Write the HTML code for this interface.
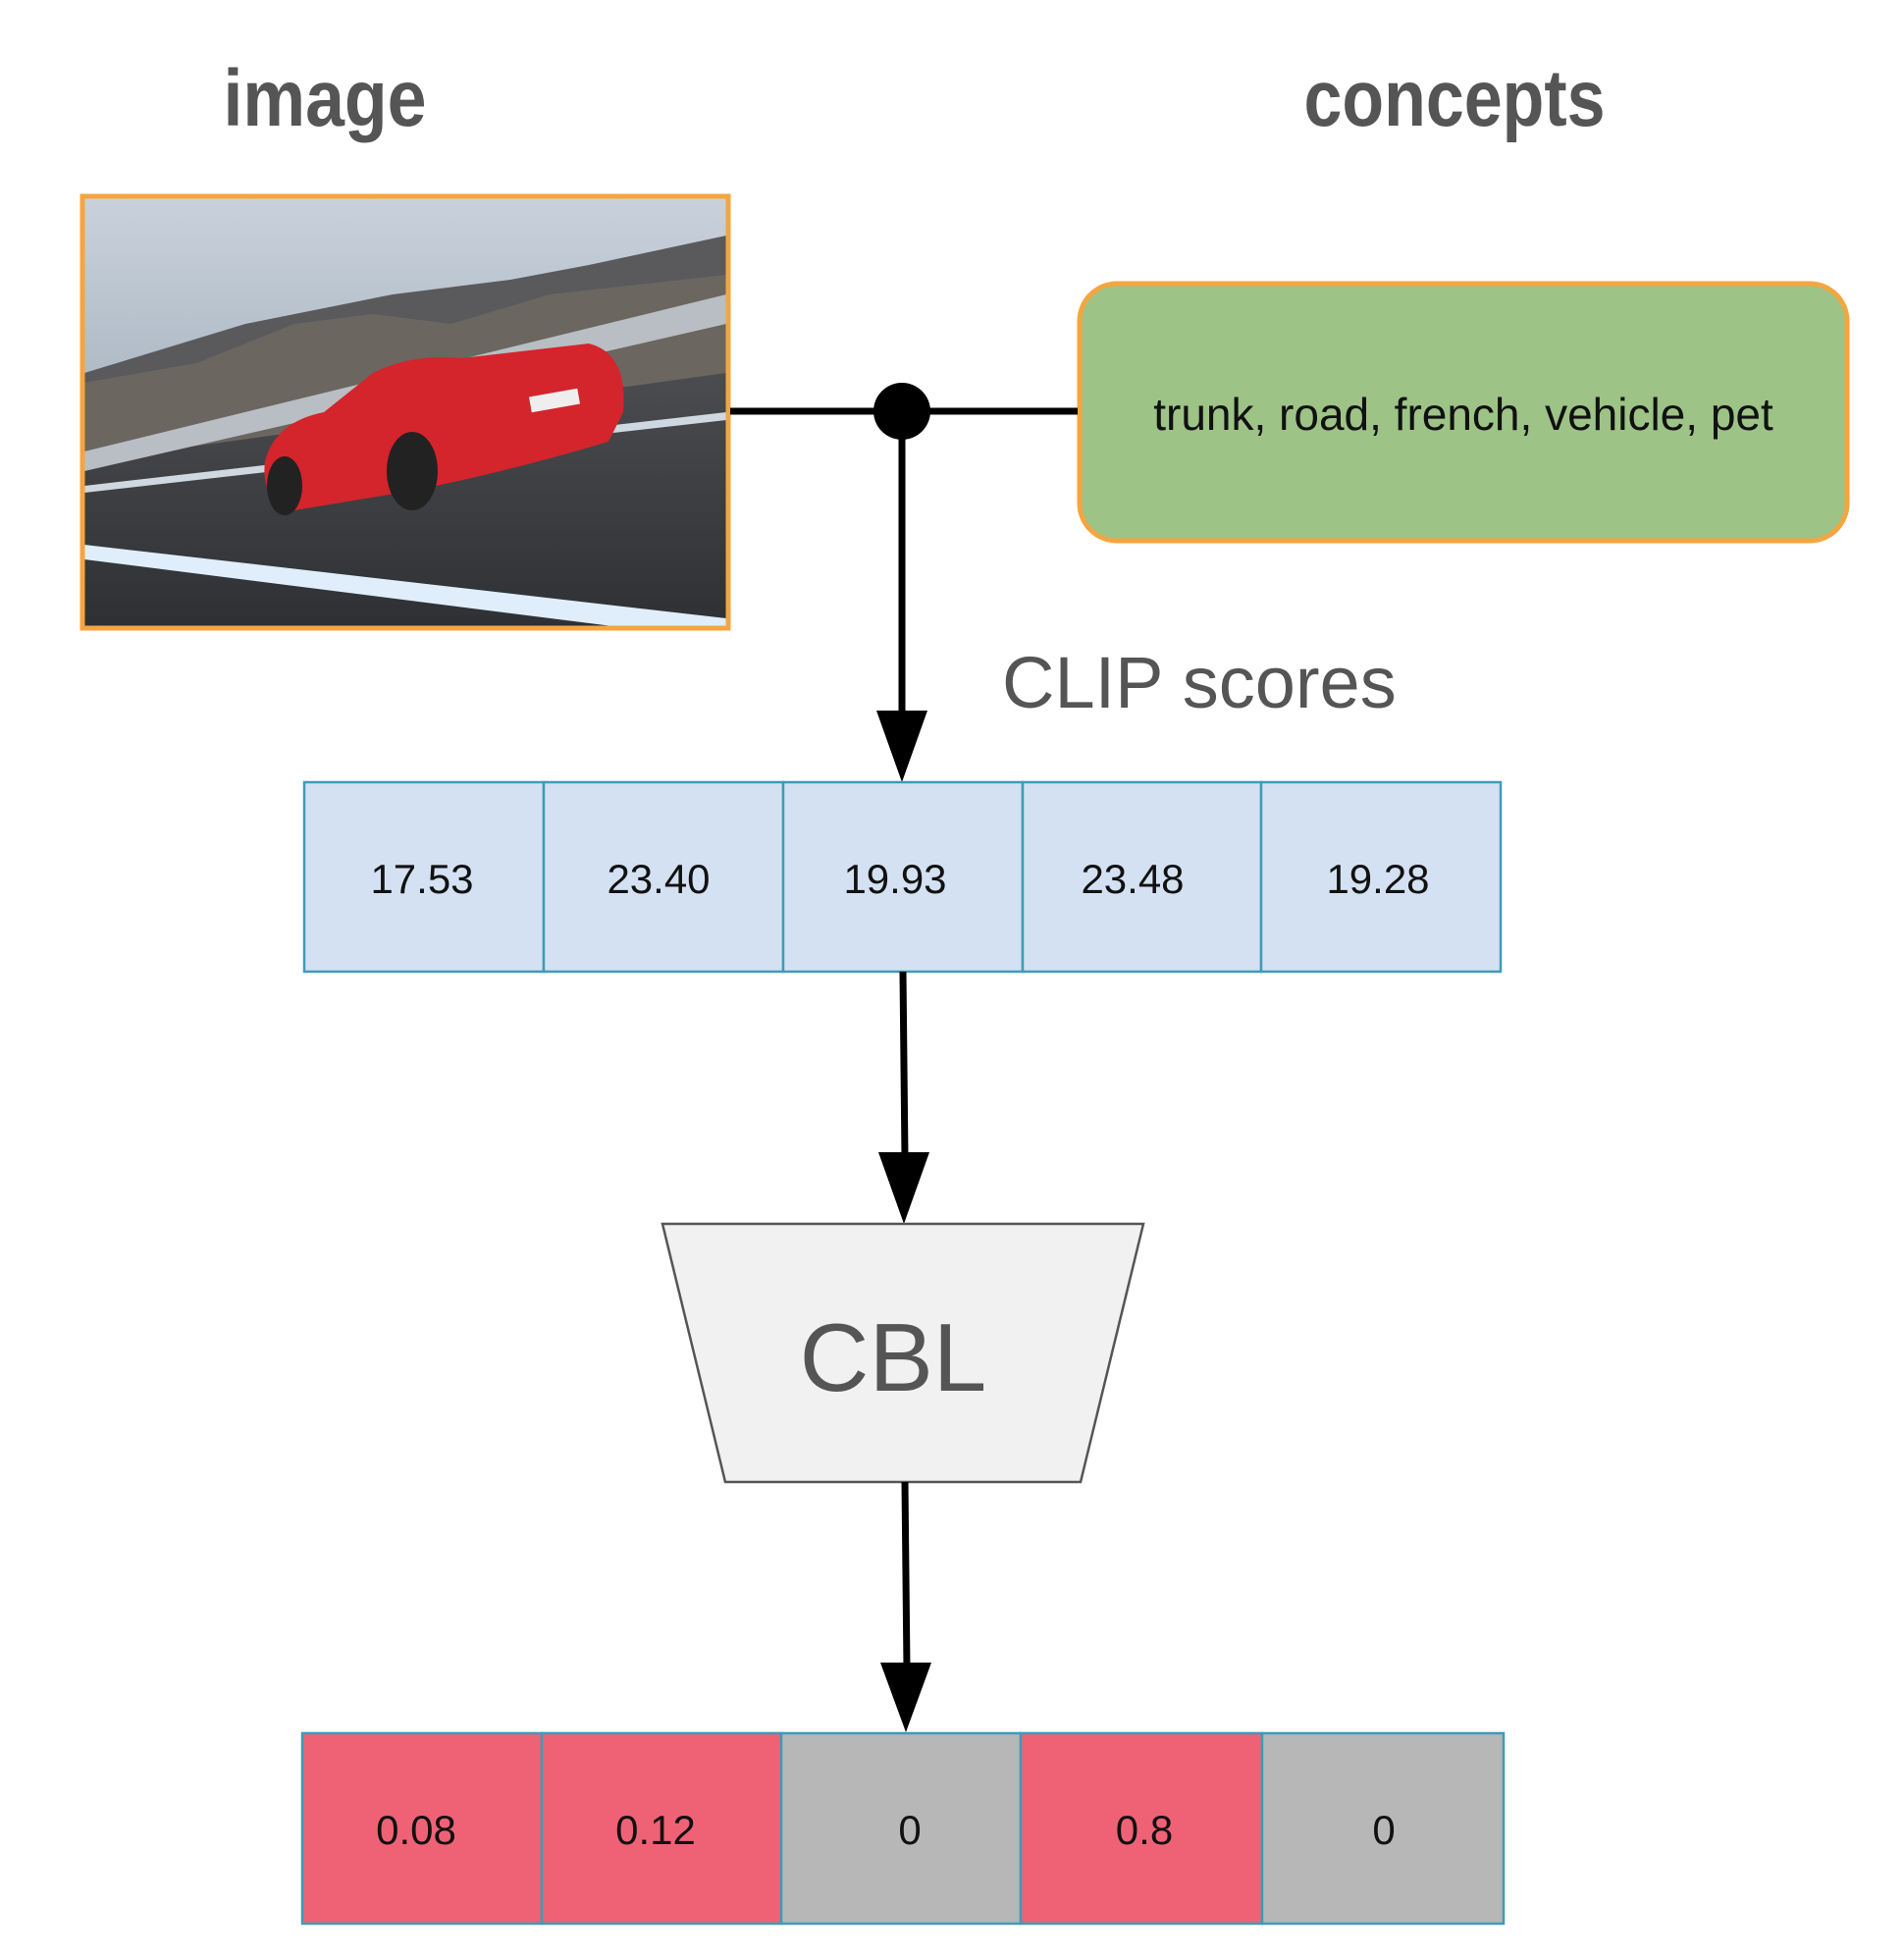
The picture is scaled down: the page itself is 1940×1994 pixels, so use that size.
<!DOCTYPE html>
<html><head><meta charset="utf-8"><style>
html,body{margin:0;padding:0;background:#fff;}
body{width:1940px;height:1994px;position:relative;overflow:hidden;font-family:"Liberation Sans",sans-serif;}
</style></head><body>
<svg width="1940" height="1994" viewBox="0 0 1940 1994" xmlns="http://www.w3.org/2000/svg" style="position:absolute;left:0;top:0">
<defs>
<linearGradient id="sky" x1="0" y1="0" x2="0" y2="1"><stop offset="0" stop-color="#c9d2dc"/><stop offset="1" stop-color="#8d9aa8"/></linearGradient>
<linearGradient id="road" x1="0" y1="0" x2="0" y2="1"><stop offset="0" stop-color="#4a4c50"/><stop offset="1" stop-color="#2e3033"/></linearGradient>
</defs>
<text x="331" y="128" text-anchor="middle" font-family="Liberation Sans Narrow, Liberation Sans, sans-serif" font-weight="bold" font-size="82" fill="#555" textLength="207" lengthAdjust="spacingAndGlyphs">image</text>
<text x="1482" y="128" text-anchor="middle" font-family="Liberation Sans Narrow, Liberation Sans, sans-serif" font-weight="bold" font-size="82" fill="#555" textLength="307" lengthAdjust="spacingAndGlyphs">concepts</text>
<g>
<rect x="84" y="200" width="658" height="440" fill="url(#sky)"/>
<polygon points="86,380 250,330 400,300 520,285 600,270 740,240 740,420 86,470" fill="#5a5a5c"/>
<polygon points="86,390 200,370 300,330 380,320 460,330 560,300 740,280 740,430 86,480" fill="#6b6660"/>
<polygon points="86,470 740,380 740,640 86,640" fill="url(#road)"/>
<polygon points="86,460 740,300 740,330 86,480" fill="#b8bec4"/>
<polygon points="86,555 740,630 740,640 640,640 86,570" fill="#dfeefa"/>
<polygon points="86,495 740,420 740,428 86,502" fill="#cfd8e0"/>
<path d="M270,470 Q280,430 330,420 L380,380 Q420,360 470,365 L600,350 Q640,360 635,420 L620,450 Q520,480 420,500 L300,520 Q265,510 270,470 Z" fill="#d3252b"/>
<ellipse cx="420" cy="480" rx="26" ry="40" fill="#222"/>
<ellipse cx="290" cy="495" rx="18" ry="30" fill="#222"/>
<rect x="540" y="400" width="50" height="16" fill="#eee" transform="rotate(-10 565 408)"/>
</g>
<rect x="84" y="200" width="658" height="440" fill="none" stroke="#f5a540" stroke-width="5"/>
<rect x="1100" y="289" width="782" height="262" rx="38" fill="#9dc386" stroke="#f5a540" stroke-width="5"/>
<text x="1491" y="438" text-anchor="middle" font-size="46" fill="#111">trunk, road, french, vehicle, pet</text>
<line x1="744" y1="419" x2="1098" y2="419" stroke="#000" stroke-width="7"/>
<circle cx="919" cy="419" r="29" fill="#000"/>
<line x1="919" y1="419" x2="919" y2="730" stroke="#000" stroke-width="7"/>
<polygon points="893,724 945,724 919,797" fill="#000"/>
<text x="1021" y="721" font-size="74" fill="#555">CLIP scores</text>
<g stroke="#3f9bb8" stroke-width="2.5" fill="#d4e1f2">
<rect x="310" y="797" width="244" height="193"/>
<rect x="554" y="797" width="244" height="193"/>
<rect x="798" y="797" width="244" height="193"/>
<rect x="1042" y="797" width="243" height="193"/>
<rect x="1285" y="797" width="244" height="193"/>
</g>
<g font-size="42" fill="#111" text-anchor="middle">
<text x="430" y="910">17.53</text>
<text x="671" y="910">23.40</text>
<text x="912" y="910">19.93</text>
<text x="1154" y="910">23.48</text>
<text x="1404" y="910">19.28</text>
</g>
<line x1="920" y1="990" x2="922" y2="1180" stroke="#000" stroke-width="7"/>
<polygon points="895,1174 947,1174 921,1247" fill="#000"/>
<polygon points="675,1247 1165,1247 1101,1510 739,1510" fill="#f1f1f1" stroke="#555" stroke-width="2.5"/>
<text x="910" y="1417" text-anchor="middle" font-size="98" fill="#555">CBL</text>
<line x1="922" y1="1510" x2="924" y2="1700" stroke="#000" stroke-width="7"/>
<polygon points="897,1694 949,1694 923,1765" fill="#000"/>
<g stroke="#3f9bb8" stroke-width="2.5">
<rect x="308" y="1766" width="244" height="194" fill="#ef6276"/>
<rect x="552" y="1766" width="244" height="194" fill="#ef6276"/>
<rect x="796" y="1766" width="244" height="194" fill="#b7b7b7"/>
<rect x="1040" y="1766" width="246" height="194" fill="#ef6276"/>
<rect x="1286" y="1766" width="246" height="194" fill="#b7b7b7"/>
</g>
<g font-size="42" fill="#111" text-anchor="middle">
<text x="424" y="1879">0.08</text>
<text x="668" y="1879">0.12</text>
<text x="927" y="1879">0</text>
<text x="1166" y="1879">0.8</text>
<text x="1410" y="1879">0</text>
</g>
</svg>
</body></html>
